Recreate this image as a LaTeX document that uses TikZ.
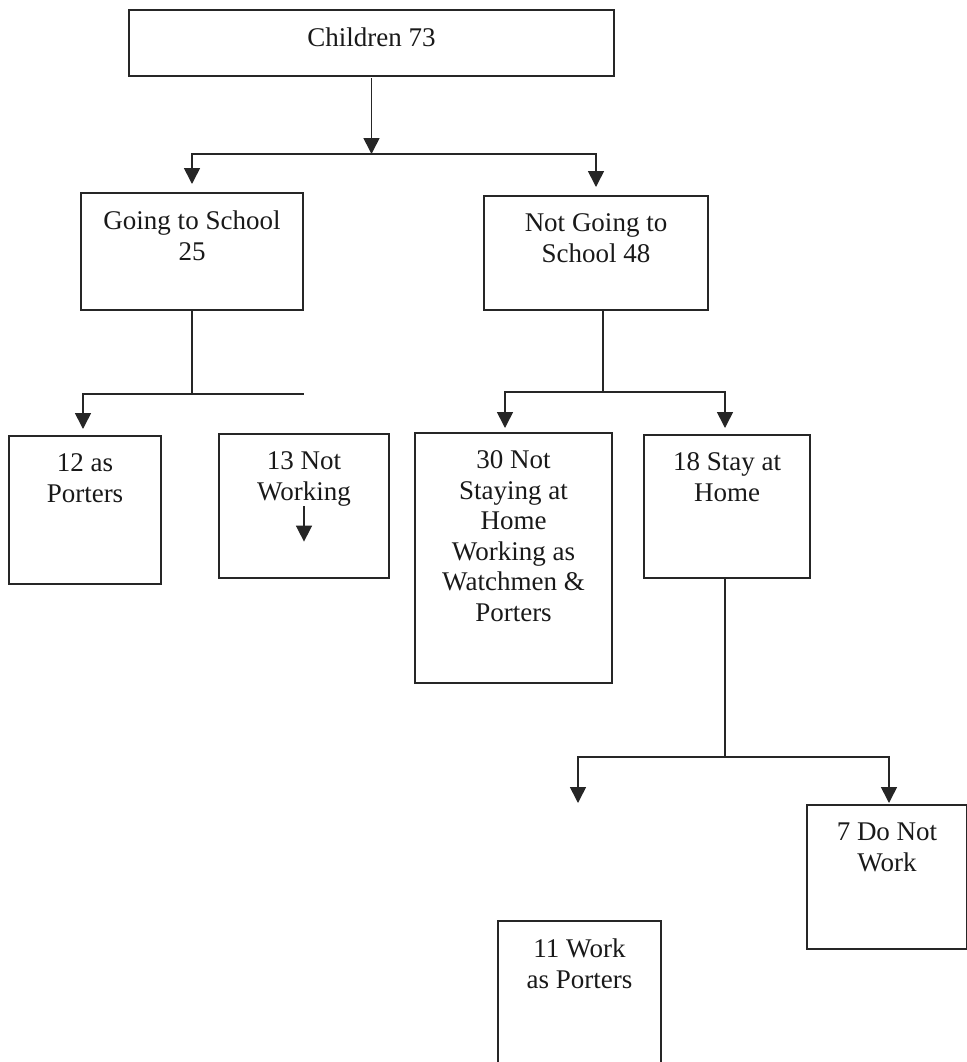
\documentclass[tikz,border=0pt]{standalone}
\usepackage{fontspec}
\setmainfont{Liberation Serif}
\usetikzlibrary{arrows.meta,calc}

\begin{document}
\begin{tikzpicture}[
   x=0.5pt, y=-0.5pt,
   >={Triangle[width=8pt,length=8pt]},
   box/.style={draw=black!85, line width=0.9pt, anchor=north west, inner sep=0pt, outer sep=0pt},
   txt/.style={anchor=north, inner sep=0pt, align=center, text=black!90,
       font=\fontsize{13.5}{15.25}\selectfont},
   conn/.style={draw=black!85, line width=0.8pt, line cap=rect},
   arr/.style={conn, ->}
  ]
  \useasboundingbox (0,0) rectangle (967,1062);
  % boxes
  \node [box, minimum width=242.5pt, minimum height=33pt] (kids) at (129,10) {};
  \node [box, minimum width=111pt, minimum height=58.5pt] (going) at (81,193) {};
  \node [box, minimum width=112pt, minimum height=57pt] (notgoing) at (484,196) {};
  \node [box, minimum width=76pt, minimum height=74pt] (porters) at (9,436) {};
  \node [box, minimum width=85pt, minimum height=72pt] (notwork) at (219,434) {};
  \node [box, minimum width=98.5pt, minimum height=125pt] (notstay) at (415,433) {};
  \node [box, minimum width=83pt, minimum height=71.5pt] (stay) at (644,435) {};
  \node [box, minimum width=80pt, minimum height=72pt] (donot) at (807,805) {};
  \node [box, minimum width=81.5pt, minimum height=75pt] (workp) at (498,921) {};
  % texts
  \node [txt] (kids-t) at ([yshift=-8.8pt]kids.north) {Children 73};
  \node [txt] (going-t) at ([yshift=-8.8pt]going.north) {Going to School\\25};
  \node [txt] (notgoing-t) at ([yshift=-8.8pt]notgoing.north) {Not Going to\\School 48};
  \node [txt] (porters-t) at ([yshift=-8.8pt]porters.north) {12 as\\Porters};
  \node [txt] (notwork-t) at ([yshift=-8.8pt]notwork.north) {13 Not\\Working};
  \node [txt] (notstay-t) at ([yshift=-8.8pt]notstay.north) {30 Not\\Staying at\\Home\\Working as\\Watchmen \&\\Porters};
  \node [txt] (stay-t) at ([yshift=-8.8pt]stay.north) {18 Stay at\\Home};
  \node [txt] (donot-t) at ([yshift=-8.8pt]donot.north) {7 Do Not\\Work};
  \node [txt] (workp-t) at ([yshift=-8.8pt]workp.north) {11 Work\\as Porters};
  % joints
  \coordinate (j1) at (371.5,154);
  \coordinate (j2) at (192,394);
  \coordinate (j2e) at (303,394);
  \coordinate (j3) at (603,392);
  \coordinate (j4) at (725,757);
  \coordinate (loose) at (578,803);
  % connectors
  \draw [arr, shorten <=1.5pt] (kids.south) -- (j1);
  \draw [arr, shorten >=4.5pt] (j1) -| (going.north);
  \draw [arr, shorten >=4.5pt] (j1) -| (notgoing.north);
  \draw [conn] (going.south) -- (j2) -- (j2e);
  \draw [arr, shorten >=3.5pt] (j2) -| ([xshift=-1pt]porters.north);
  \draw [arr] (notwork-t.south) -- ++(0,35);
  \draw [conn] (notgoing.south -| j3) -- (j3);
  \draw [arr, shorten >=2.5pt] (j3) -| ([xshift=-4.25pt]notstay.north);
  \draw [arr, shorten >=3.5pt] (j3) -| ([xshift=-1pt]stay.north);
  \draw [conn] (stay.south -| j4) -- (j4);
  \draw [arr] (j4) -| (loose);
  \draw [arr, shorten >=1pt] (j4) -| ([xshift=1pt]donot.north);
\end{tikzpicture}
\end{document}
